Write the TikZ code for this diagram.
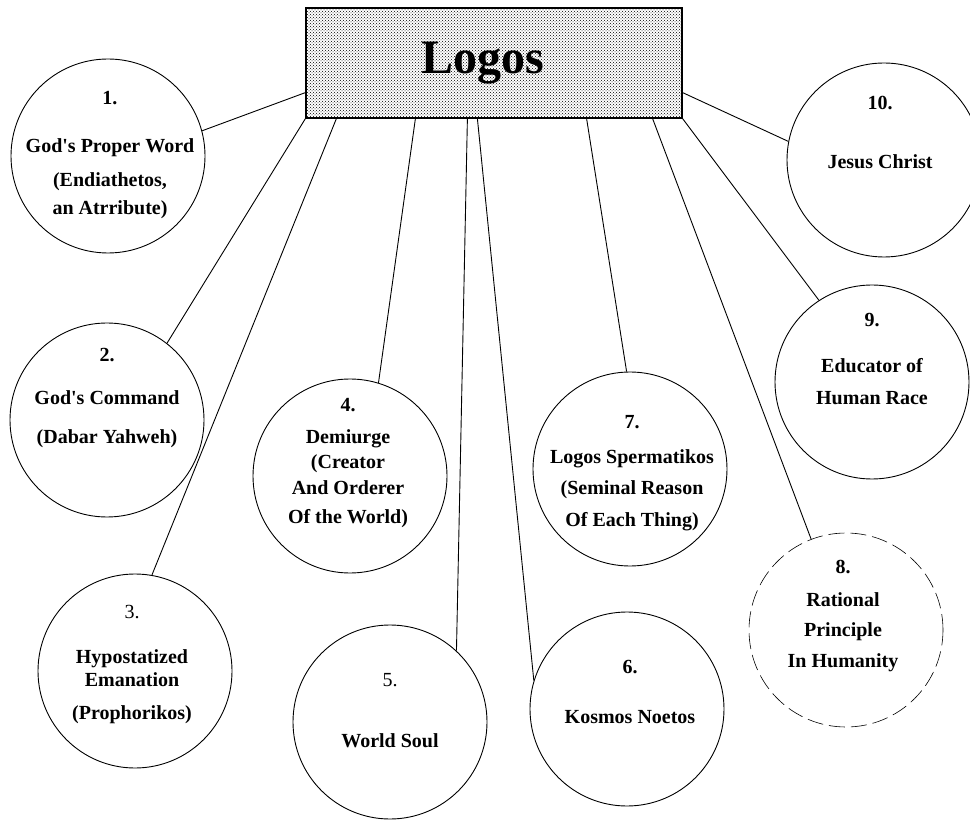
\documentclass[tikz,border=0pt]{standalone}
\usepackage{fontspec}
\setmainfont{Liberation Serif}
\usetikzlibrary{patterns}

\tikzset{
  bubble/.style={draw,circle,line width=0.9pt,minimum size=194pt,inner sep=0pt},
  faint/.style={line width=0.6pt,dash pattern=on 16pt off 6pt},
  txt/.style={align=center,anchor=north,inner sep=0pt,
    font=\fontsize{20}{24}\selectfont\bfseries},
  link/.style={line width=0.9pt},
}

\begin{document}
\begin{tikzpicture}[x=1pt,y=-1pt]
  \useasboundingbox (0,0) rectangle (970,826);

  % central box
  \node[draw,line width=1.2pt,fill=black!22,pattern=crosshatch dots,
    minimum width=376pt,minimum height=110pt,inner sep=0pt,
    font=\fontsize{48}{52}\selectfont\bfseries] (logos) at (494,63) {Logos\hspace*{22pt}};

  % circles
  \node[bubble] (c1) at (108,156) {};
  \node[bubble] (c2) at (107,420) {};
  \node[bubble] (c3) at (135,671) {};
  \node[bubble] (c4) at (350,476) {};
  \node[bubble] (c5) at (390,722) {};
  \node[bubble] (c6) at (627,709) {};
  \node[bubble] (c7) at (630,469) {};
  \node[bubble,faint] (c8) at (846,630) {};
  \node[bubble] (c9) at (872,382) {};
  \node[bubble] (c10) at (884,160) {};

  % texts
  \node[txt] (t1) at (110,91) {1.\\[24pt]God\textquotesingle s Proper Word\\[10pt](Endiathetos,\\[4pt]an Atrribute)};
  \node[txt] (t2) at (107,348) {2.\\[19pt]God\textquotesingle s Command\\[15pt](Dabar Yahweh)};
  \node[txt] (t3) at (132,605) {{\mdseries 3.}\\[21pt]Hypostatized\\[-1pt]Emanation\\[9pt](Prophorikos)};
  \node[txt] (t4) at (348,398) {4.\\[8pt]Demiurge\\[1pt](Creator\\[2pt]And Orderer\\[5pt]Of the World)};
  \node[txt] (t5) at (390,673) {{\mdseries 5.}\\[37pt]World Soul};
  \node[txt] (t6) at (630,660) {6.\\[26pt]Kosmos Noetos};
  \node[txt] (t7) at (632,415) {7.\\[11pt]Logos Spermatikos\\[7pt](Seminal Reason\\[8pt]Of Each Thing)};
  \node[txt] (t8) at (843,560) {8.\\[9pt]Rational\\[6pt]Principle\\[7pt]In Humanity};
  \node[txt] (t9) at (872,313) {9.\\[22pt]Educator of\\[8pt]Human Race};
  \node[txt] (t10) at (880,96) {10.\\[35pt]Jesus Christ};

  % connectors
  \draw[link] ([yshift=26pt]logos.south west) -- (c1.15);
  \draw[link] (logos.south west) -- (c2.52);
  \draw[link] ([xshift=31pt]logos.south west) -- (c3.80);
  \draw[link] ([xshift=110pt]logos.south west) -- (c4.73);
  \draw[link] ([xshift=162pt]logos.south west) -- (c5.47);
  \draw[link] ([xshift=172pt]logos.south west) -- (c6.163);
  \draw[link] ([xshift=-96pt]logos.south east) -- (c7.92);
  \draw[link] ([xshift=-30pt]logos.south east) -- (c8.111);
  \draw[link] (logos.south east) -- (c9.123);
  \draw[link] ([yshift=26pt]logos.south east) -- (c10.169);
\end{tikzpicture}
\end{document}
